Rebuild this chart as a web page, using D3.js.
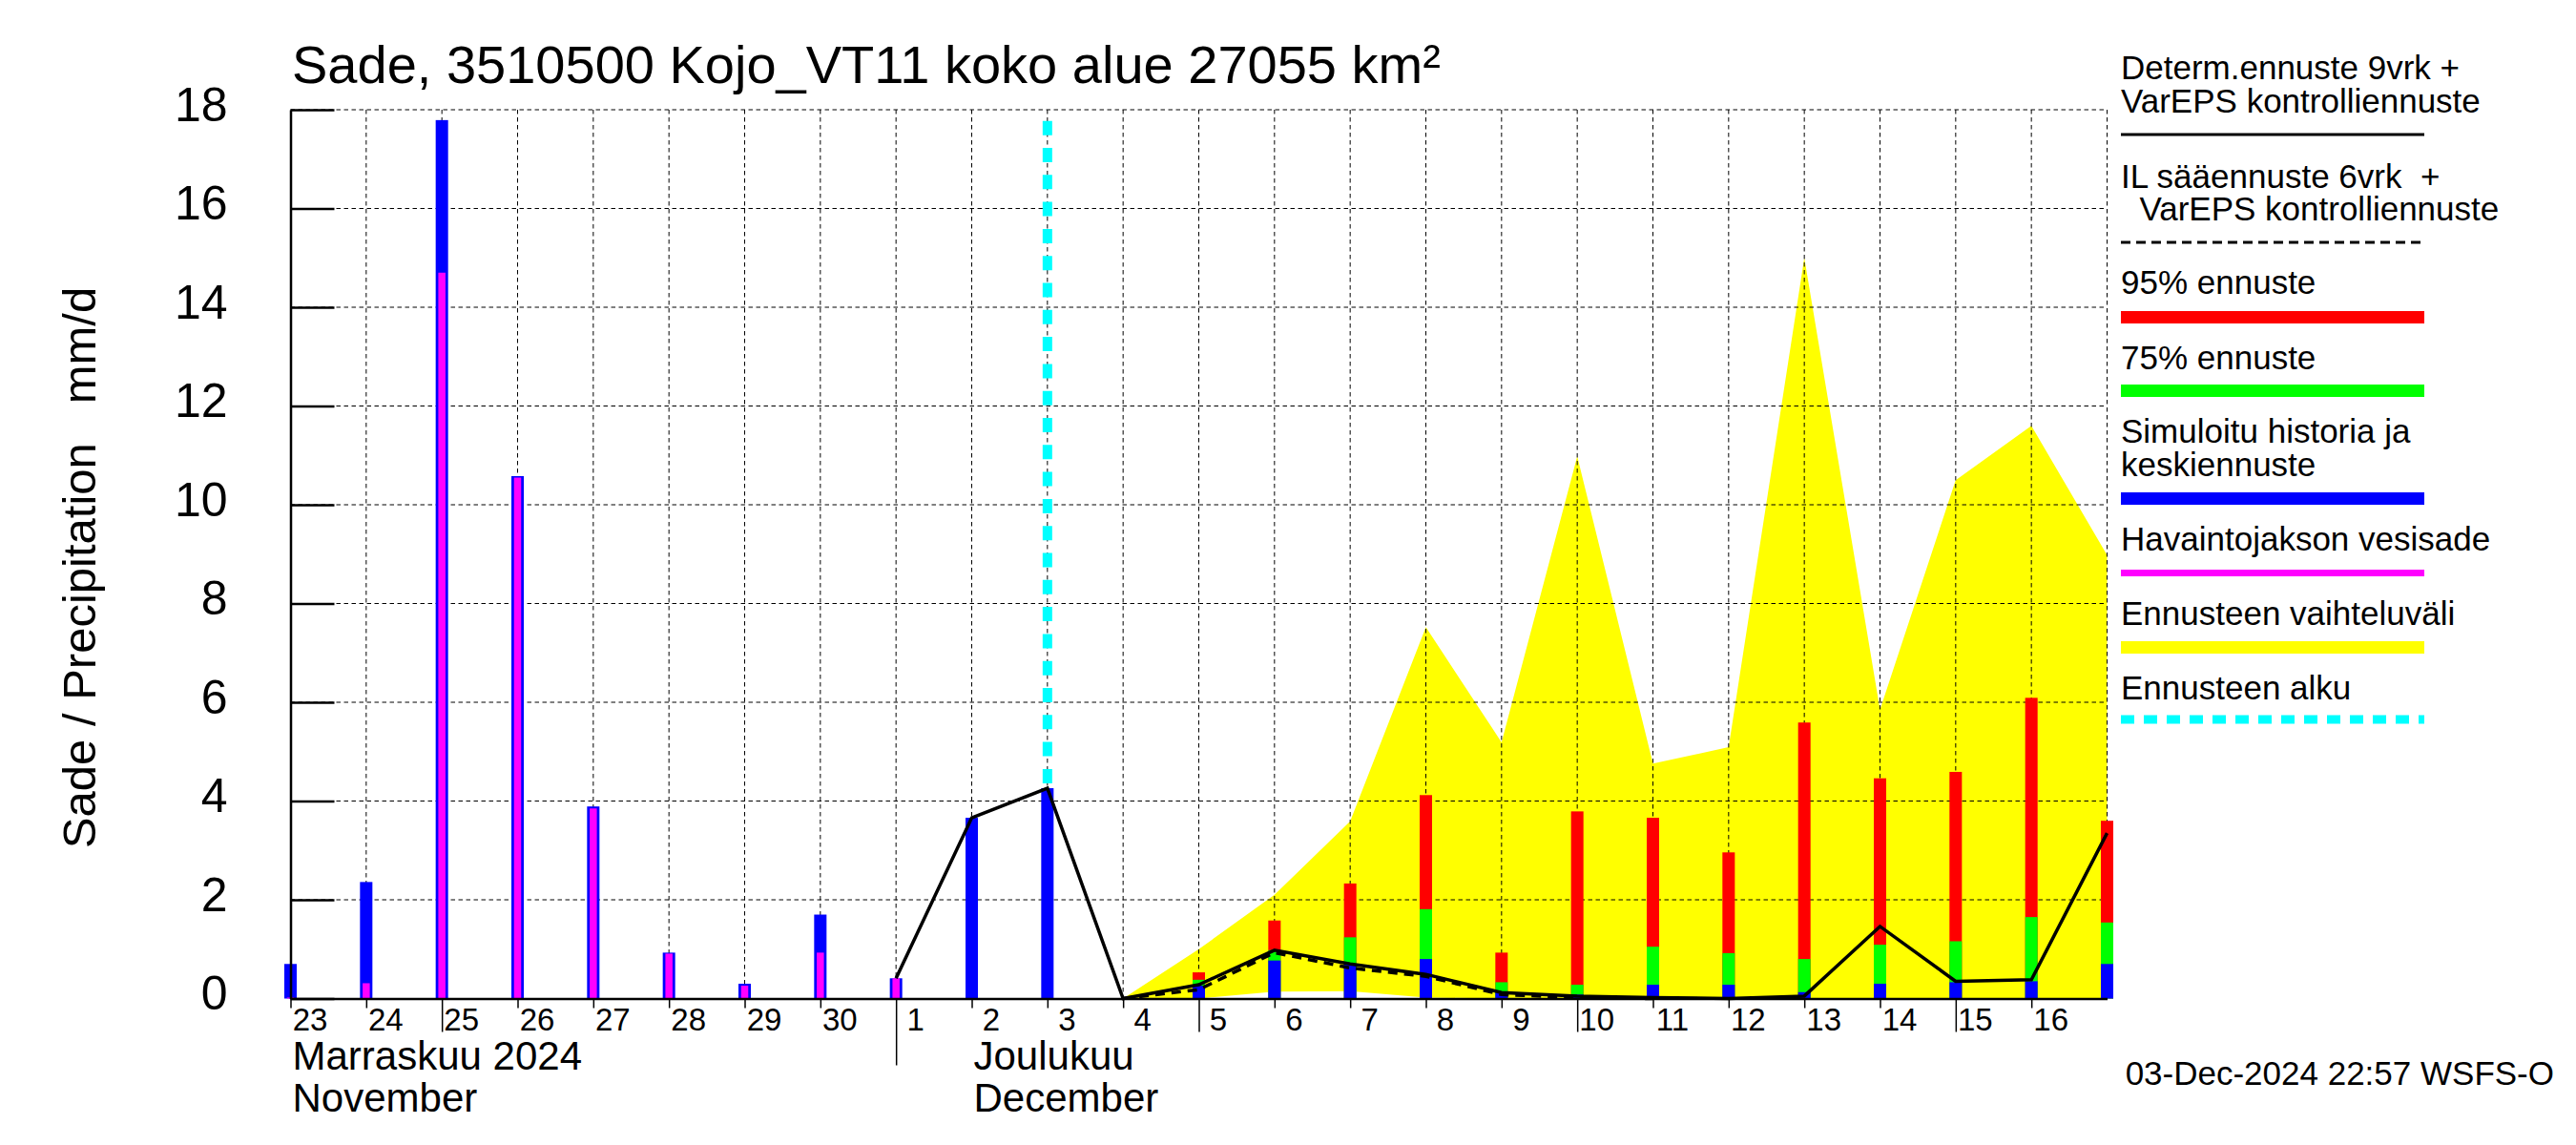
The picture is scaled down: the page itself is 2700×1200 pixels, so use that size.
<!DOCTYPE html>
<html>
<head>
<meta charset="utf-8">
<script src="https://cdn.jsdelivr.net/npm/d3@7"></script>
<style>
  body { margin: 0; background: #fff; }
  text { font-family: "Liberation Sans", Arial, Helvetica, sans-serif; }
</style>
</head>
<body>
<div id="chart"></div>
<script>
// chart data
var histDays = ["2024-11-23", "2024-11-24", "2024-11-25", "2024-11-26", "2024-11-27", "2024-11-28",
  "2024-11-29", "2024-11-30", "2024-12-01", "2024-12-02", "2024-12-03"];
var simHistory = [0.70, 2.36, 17.79, 10.58, 3.89, 0.93, 0.30, 1.70, 0.41, 3.66, 4.26];
var obsRain = [0.02, 0.31, 14.7, 10.55, 3.85, 0.91, 0.26, 0.93, 0.41, 0, 0];

var fcDays = ["2024-12-05", "2024-12-06", "2024-12-07", "2024-12-08", "2024-12-09", "2024-12-10",
  "2024-12-11", "2024-12-12", "2024-12-13", "2024-12-14", "2024-12-15", "2024-12-16", "2024-12-17"];
var fc95 = [0.53, 1.58, 2.33, 4.12, 0.93, 3.79, 3.66, 2.96, 5.59, 4.46, 4.59, 6.09, 3.60];
var fc75 = [0.38, 0.98, 1.24, 1.81, 0.33, 0.28, 1.05, 0.92, 0.80, 1.09, 1.16, 1.65, 1.54];
var fcMean = [0.26, 0.77, 0.70, 0.80, 0.14, 0.08, 0.28, 0.28, 0.13, 0.30, 0.33, 0.35, 0.70];

var rangeDays = ["2024-12-04", "2024-12-05", "2024-12-06", "2024-12-07", "2024-12-08", "2024-12-09",
  "2024-12-10", "2024-12-11", "2024-12-12", "2024-12-13", "2024-12-14", "2024-12-15", "2024-12-16", "2024-12-17"];
var rangeHigh = [0, 1.0, 2.1, 3.59, 7.52, 5.19, 10.98, 4.76, 5.09, 15.0, 5.85, 10.5, 11.6, 8.98];
var rangeLow = [0, 0, 0.14, 0.15, 0.02, 0, 0, 0, 0, 0, 0, 0, 0, 0];

var determDays = ["2024-12-01", "2024-12-02", "2024-12-03", "2024-12-04", "2024-12-05", "2024-12-06",
  "2024-12-07", "2024-12-08", "2024-12-09", "2024-12-10", "2024-12-11", "2024-12-12", "2024-12-13",
  "2024-12-14", "2024-12-15", "2024-12-16", "2024-12-17"];
var determ = [0.41, 3.66, 4.26, 0, 0.28, 0.98, 0.70, 0.49, 0.12, 0.05, 0.02, 0, 0.05, 1.46, 0.35, 0.38, 3.35];

var ilDays = ["2024-12-04", "2024-12-05", "2024-12-06", "2024-12-07", "2024-12-08", "2024-12-09",
  "2024-12-10", "2024-12-11"];
var ilForecast = [0, 0.18, 0.93, 0.62, 0.45, 0.08, 0.02, 0];

var forecastStart = "2024-12-03";
var yTicks = [0, 2, 4, 6, 8, 10, 12, 14, 16, 18];
var monthLabels = [
  { day: "2024-11-23", fi: "Marraskuu 2024", en: "November" },
  { day: "2024-12-02", fi: "Joulukuu", en: "December" }
];
var legendLabels = [
  ["Determ.ennuste 9vrk +", "VarEPS kontrolliennuste"],
  ["IL sääennuste 6vrk  +", "  VarEPS kontrolliennuste"],
  ["95% ennuste"],
  ["75% ennuste"],
  ["Simuloitu historia ja", "keskiennuste"],
  ["Havaintojakson vesisade"],
  ["Ennusteen vaihteluväli"],
  ["Ennusteen alku"]
];

var titleText = "Sade, 3510500 Kojo_VT11 koko alue 27055 km²";
var yLabel = "Sade / Precipitation   mm/d";
var footer = "03-Dec-2024 22:57 WSFS-O";

// basic setup
var svgWidth = 2700, svgHeight = 1200;
var parse = d3.utcParse("%Y-%m-%d");

var svg = d3.select("#chart").append("svg")
  .attr("width", svgWidth)
  .attr("height", svgHeight)
  .style("background", "#fff");

var x = d3.scaleUtc()
  .domain([parse("2024-11-23"), parse("2024-12-17")])
  .range([304.5, 2208.5]);
var y = d3.scaleLinear().domain([0, 18]).range([1046.5, 115]);

// forecast range (yellow)
var rangeData = rangeDays.map(function(d, i) {
  return { date: parse(d), hi: rangeHigh[i], lo: rangeLow[i] };
});
svg.append("path")
  .datum(rangeData)
  .attr("fill", "#ffff00")
  .attr("d", d3.area().x(d => x(d.date)).y0(d => y(d.lo)).y1(d => y(d.hi)));

// grid
var grid = svg.append("g").attr("stroke", "#000").attr("stroke-width", 1).attr("stroke-dasharray", "4.5,3.5");
grid.selectAll("line.h")
  .data(yTicks.filter(t => t > 0))
  .enter().append("line")
  .attr("x1", x.range()[0]).attr("x2", x.range()[1])
  .attr("y1", d => y(d)).attr("y2", d => y(d));
grid.selectAll("line.v")
  .data(d3.utcDay.range(parse("2024-11-24"), parse("2024-12-18")))
  .enter().append("line")
  .attr("x1", d => x(d)).attr("x2", d => x(d))
  .attr("y1", y(18)).attr("y2", y(0));

// forecast start line
svg.append("line")
  .attr("x1", x(parse(forecastStart))).attr("x2", x(parse(forecastStart)))
  .attr("y1", 126.7).attr("y2", y(0))
  .attr("stroke", "#00ffff").attr("stroke-width", 10)
  .attr("stroke-dasharray", "15,13.3");

// history bars
var barW = 13;
svg.selectAll("rect.sim")
  .data(histDays)
  .enter().append("rect")
  .attr("x", d => x(parse(d)) - barW / 2)
  .attr("width", barW)
  .attr("y", (d, i) => y(simHistory[i]))
  .attr("height", (d, i) => y(0) - y(simHistory[i]))
  .attr("fill", "#0000ff");
svg.selectAll("rect.obs")
  .data(histDays)
  .enter().append("rect")
  .attr("x", d => x(parse(d)) - 3.75)
  .attr("width", 7.5)
  .attr("y", (d, i) => y(obsRain[i]))
  .attr("height", (d, i) => y(0) - y(obsRain[i]))
  .attr("fill", "#ff00ff");

// forecast bars
[[fc95, "#ff0000"], [fc75, "#00ff00"], [fcMean, "#0000ff"]].forEach(function(s) {
  svg.append("g").selectAll("rect")
    .data(fcDays)
    .enter().append("rect")
    .attr("x", d => x(parse(d)) - barW / 2)
    .attr("width", barW)
    .attr("y", (d, i) => y(s[0][i]))
    .attr("height", (d, i) => y(0) - y(s[0][i]))
    .attr("fill", s[1]);
});

// forecast lines
var line = d3.line().x(d => x(d.date)).y(d => y(d.v));
svg.append("path")
  .datum(ilDays.map((d, i) => ({ date: parse(d), v: ilForecast[i] })))
  .attr("fill", "none").attr("stroke", "#000").attr("stroke-width", 3.5)
  .attr("stroke-dasharray", "10,7")
  .attr("d", line);
svg.append("path")
  .datum(determDays.map((d, i) => ({ date: parse(d), v: determ[i] })))
  .attr("fill", "none").attr("stroke", "#000").attr("stroke-width", 3.5)
  .attr("d", line);

// y axis
var yAxis = d3.axisLeft(y).tickValues(yTicks).tickSizeInner(-46).tickSizeOuter(0).tickPadding(66);
var gy = svg.append("g").attr("transform", "translate(" + x.range()[0] + ",0)").call(yAxis);
gy.select(".domain").attr("stroke-width", 2.5);
gy.selectAll(".tick line").attr("stroke-width", 2.5);
gy.selectAll("text")
  .attr("dy", "0.22em")
  .style("font-size", "50px")
  .style("font-family", "'Liberation Sans', Arial, sans-serif")
  .attr("fill", "#000");

// x axis
var xAxis = d3.axisBottom(x)
  .tickValues(d3.utcDay.range(parse("2024-11-23"), parse("2024-12-17")))
  .tickSizeInner(10).tickSizeOuter(0)
  .tickFormat(d3.utcFormat("%-d"));
var gx = svg.append("g").attr("transform", "translate(0," + y(0) + ")").call(xAxis);
gx.select(".domain").attr("stroke-width", 2.5);
gx.selectAll(".tick line")
  .attr("stroke-width", 1.5)
  .attr("y2", function(d) {
    var dd = d.getUTCDate();
    if (dd === 1) return 70;
    if (dd % 5 === 0 && dd < 30) return 35;
    return 10;
  });
gx.selectAll("text")
  .attr("x", 20).attr("y", 33.5).attr("dy", 0)
  .style("font-size", "33px")
  .style("font-family", "'Liberation Sans', Arial, sans-serif")
  .attr("fill", "#000");

// month labels
monthLabels.forEach(function(m) {
  svg.append("text").attr("x", x(parse(m.day)) + 2).attr("y", 1121)
    .style("font-size", "42px").text(m.fi);
  svg.append("text").attr("x", x(parse(m.day)) + 2).attr("y", 1165)
    .style("font-size", "42px").text(m.en);
});

// title
svg.append("text").attr("x", 306).attr("y", 87)
  .style("font-size", "56px").text(titleText);

// y label
svg.append("text")
  .attr("transform", "translate(100,595) rotate(-90)")
  .attr("text-anchor", "middle")
  .style("font-size", "49px")
  .style("white-space", "pre")
  .text(yLabel);

// footer
svg.append("text").attr("x", 2677).attr("y", 1137)
  .attr("text-anchor", "end")
  .style("font-size", "35px").text(footer);

// legend
var lx0 = 2223, lx1 = 2541;
var legendLayout = [
  { base: [83, 118], key: { y: 141, w: 3, c: "#000" } },
  { base: [197, 231], key: { y: 254, w: 3, c: "#000", dash: "10,6" } },
  { base: [308], key: { y: 332.5, w: 13, c: "#ff0000" } },
  { base: [387], key: { y: 409.5, w: 13, c: "#00ff00" } },
  { base: [464, 499], key: { y: 522.5, w: 13, c: "#0000ff" } },
  { base: [577], key: { y: 600.5, w: 7, c: "#ff00ff" } },
  { base: [655], key: { y: 678.5, w: 13, c: "#ffff00" } },
  { base: [733], key: { y: 754, w: 9, c: "#00ffff", dash: "14,10" } }
];
var legend = svg.append("g");
legendLabels.forEach(function(lines, i) {
  var lay = legendLayout[i];
  lines.forEach(function(t, j) {
    legend.append("text")
      .attr("x", lx0).attr("y", lay.base[j])
      .style("font-size", "35px")
      .style("white-space", "pre")
      .text(t);
  });
  legend.append("line")
    .attr("x1", lx0).attr("x2", lx1)
    .attr("y1", lay.key.y).attr("y2", lay.key.y)
    .attr("stroke", lay.key.c).attr("stroke-width", lay.key.w)
    .attr("stroke-dasharray", lay.key.dash || null);
});
</script>
</body>
</html>
